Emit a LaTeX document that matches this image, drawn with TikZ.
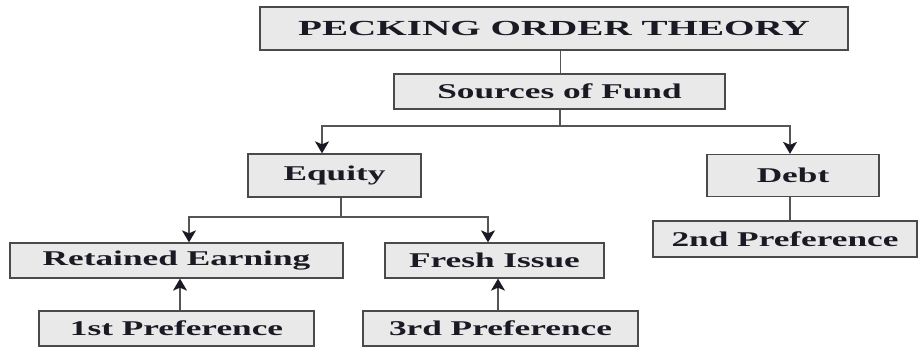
\documentclass[tikz,border=0pt]{standalone}
\usepackage{fontspec}
\setmainfont{Liberation Serif}
\newfontfamily\boxfont{Liberation Serif}[FakeStretch=1.68]
\newfontfamily\titlefont{Liberation Serif}[FakeStretch=1.82]
\usetikzlibrary{arrows.meta,calc}
\definecolor{boxfill}{HTML}{E9E9E9}
\definecolor{boxline}{HTML}{4A4A4A}
\definecolor{conline}{HTML}{555555}
\definecolor{txt}{HTML}{1A1A24}
\tikzset{
  pbox/.style={draw=boxline, line width=1.3pt, fill=boxfill, text=txt, inner sep=0pt,
    font=\boxfont\bfseries\fontsize{21}{24}\selectfont, anchor=center},
  conn/.style={draw=conline, line width=1.3pt},
  arr/.style={conn, -{Stealth[length=12pt,width=14pt,inset=3pt,color=txt]}}
}
\begin{document}
\begin{tikzpicture}[x=1pt,y=-1pt]
\useasboundingbox (0,0) rectangle (919,347);
% boxes
\node[pbox, minimum width=588pt, minimum height=43pt, font=\titlefont\bfseries\fontsize{21.5}{24}\selectfont] (title) at (554,28.5) {PECKING ORDER THEORY};
\node[pbox, minimum width=331pt, minimum height=35pt] (src) at (559.5,91.5) {Sources of Fund};
\node[pbox, minimum width=173pt, minimum height=43pt] (eq) at (334.5,175.5) {Equity};
\node[pbox, minimum width=172pt, minimum height=42pt] (debt) at (793,175.5) {Debt};
\node[pbox, minimum width=333pt, minimum height=35pt] (ret) at (176.5,260.5) {Retained Earning};
\node[pbox, minimum width=219pt, minimum height=35pt] (fresh) at (494.5,260.5) {Fresh Issue};
\node[pbox, minimum width=275pt, minimum height=35pt] (p1) at (176.5,328.5) {1st Preference};
\node[pbox, minimum width=275pt, minimum height=35pt] (p3) at (500.5,328.5) {3rd Preference};
\node[pbox, minimum width=264pt, minimum height=36pt] (p2) at (785,239) {2nd Preference};
% connectors
\draw[conn] ([xshift=1pt]src.north) -- ([xshift=1pt]src.north |- title.south);
\coordinate (j1) at (560,126);
\draw[conn] ([xshift=0.5pt]src.south) -- (j1);
\draw[arr] (j1) -| ([xshift=-12.5pt]eq.north);
\draw[arr] (j1) -| ([xshift=-3pt]debt.north);
\coordinate (j2) at (341,217);
\draw[conn] ([xshift=6.5pt]eq.south) -- (j2);
\draw[arr] (j2) -| ([xshift=12.5pt]ret.north);
\draw[arr] (j2) -| ([xshift=-6.5pt]fresh.north);
\draw[arr] ([xshift=3.5pt]p1.north) -- ([xshift=3.5pt]p1.north |- ret.south);
\draw[arr] ([xshift=-2.5pt]p3.north) -- ([xshift=-2.5pt]p3.north |- fresh.south);
\draw[conn] ([xshift=-3pt]debt.south) -- ([xshift=-3pt]debt.south |- p2.north);
\end{tikzpicture}
\end{document}
